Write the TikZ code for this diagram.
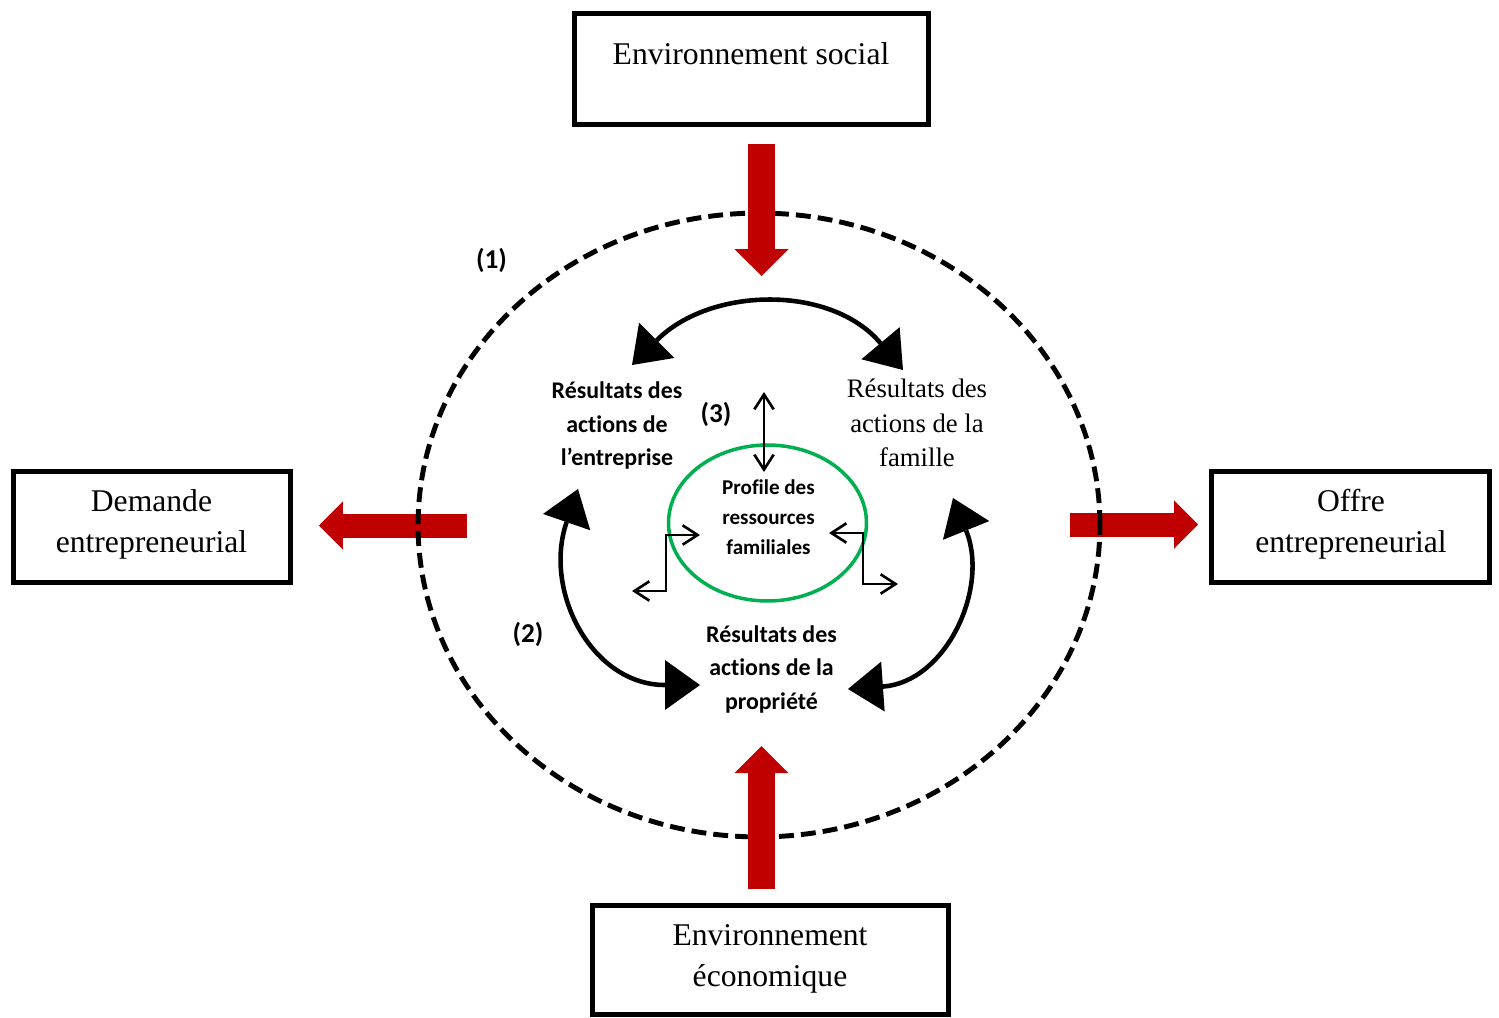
\documentclass[tikz,border=0pt]{standalone}
\usepackage{fontspec}
\setmainfont{Liberation Serif}
\newfontfamily\carlito{Carlito}[Ligatures=NoCommon]
\usetikzlibrary{arrows.meta,shapes.geometric}
\definecolor{arrowred}{HTML}{C00000}
\definecolor{ringgreen}{HTML}{00B050}
\begin{document}
\begin{tikzpicture}[x=0.02cm, y=-0.02cm,
  envbox/.style={draw, line width=2.8pt, inner sep=0pt, minimum height=2.22cm},
  boxtext/.style={font=\fontsize{18}{23.3}\selectfont, align=center, inner sep=0pt},
  famtext/.style={font=\fontsize{15.2}{19.8}\selectfont, align=center, inner sep=0pt},
  restext/.style={font=\carlito\bfseries\fontsize{13.6}{19}\selectfont, align=center, inner sep=0pt},
  proftext/.style={font=\carlito\bfseries\fontsize{12}{17}\selectfont, align=center, inner sep=0pt},
  numtext/.style={font=\carlito\bfseries\fontsize{15.5}{18}\selectfont, inner sep=0pt},
  redv/.style={draw=arrowred, line width=0.54cm,
    -{Triangle[length=0.54cm, width=1.08cm, line width=0pt]}},
  redh/.style={draw=arrowred, line width=0.48cm,
    -{Triangle[length=0.48cm, width=0.97cm, line width=0pt]}},
  bigarrow/.style={line width=2.6pt,
    {Triangle[length=0.7cm, width=1cm, line width=0pt]}-{Triangle[length=0.7cm, width=1cm, line width=0pt]}},
  thinarrow/.style={line width=1.5pt,
    {Straight Barb[length=8.5pt, width=11pt]}-{Straight Barb[length=8.5pt, width=11pt]}}
]
\useasboundingbox (0,0) rectangle (1499,1018);

% outer boxes
\node[envbox, minimum width=7.08cm] (envsoc) at (751.5,69) {};
\node[boxtext] (envsoctxt) at (751,54) {Environnement social};
\node[envbox, minimum width=5.54cm] (demande) at (152,527) {};
\node[boxtext] (demandetxt) at (151.5,524.5) {Demande\\entrepreneurial};
\node[envbox, minimum width=5.56cm] (offre) at (1350.5,527) {};
\node[boxtext] (offretxt) at (1351,524.5) {Offre\\entrepreneurial};
\node[envbox, minimum width=7.12cm, minimum height=2.18cm] (envecon) at (770.5,960) {};
\node[boxtext] (envecontxt) at (770,958.5) {Environnement\\économique};

% horizontal red arrows (under the dashed ring)
\coordinate (rl1) at (467,525.5); \coordinate (rl2) at (319,525.5);
\coordinate (rr1) at (1070,524.5); \coordinate (rr2) at (1198,524.5);
\draw[redh] (rl1) -- (rl2);
\draw[redh] (rr1) -- (rr2);

% dashed ring
\node[draw, ellipse, line width=2.8pt, dash pattern=on 8.5pt off 4pt,
  minimum width=13.64cm, minimum height=12.48cm, inner sep=0pt] (ring) at (759,525) {};

% vertical red arrows
\coordinate (rt1) at (761.5,144); \coordinate (rt2) at (761.5,276);
\coordinate (rb1) at (761.5,889); \coordinate (rb2) at (761.5,746);
\draw[redv] (rt1) -- (rt2);
\draw[redv] (rb1) -- (rb2);

% inner green ring
\node[draw=ringgreen, ellipse, line width=2pt, minimum width=3.96cm,
  minimum height=3.12cm, inner sep=0pt] (core) at (767.5,523) {};
\node[proftext] (profile) at (768.5,517.4) {Profile des\\ressources\\familiales};

% result texts
\node[restext] (entreprise) at (617,425.5) {Résultats des\\actions de\\l’entreprise};
\node[famtext] (famille) at (917,423) {Résultats des\\actions de la\\famille};
\node[restext] (propriete) at (771.5,669.4) {Résultats des\\actions de la\\propriété};

% numbered labels
\node[numtext] (n1) at (491.5,260.5) {(1)};
\node[numtext] (n2) at (528,634) {(2)};
\node[numtext] (n3) at (716,414.5) {(3)};

% curved arrows between results
\coordinate (ta) at (632,365); \coordinate (tb) at (903,370);
\coordinate (la) at (578,489); \coordinate (lb) at (700,685);
\coordinate (ra) at (953,498); \coordinate (rb) at (848,689);
\draw[bigarrow] (ta) to[out=45, in=130, looseness=1.05] (tb);
\draw[bigarrow] (la) to[out=251, in=180, looseness=1.2] (lb);
\draw[bigarrow] (ra) to[out=292, in=4, looseness=1.15] (rb);

% thin arrows around the resource profile
\coordinate (va) at (764,392); \coordinate (vb) at (764,472);
\draw[thinarrow] (va) -- (vb);
\coordinate (le1) at (700,535); \coordinate (le2) at (666,535);
\coordinate (le3) at (666,591); \coordinate (le4) at (632,591);
\draw[thinarrow] (le1) -- (le2) -- (le3) -- (le4);
\coordinate (re1) at (829,533); \coordinate (re2) at (863,533);
\coordinate (re3) at (863,584); \coordinate (re4) at (898,584);
\draw[thinarrow] (re1) -- (re2) -- (re3) -- (re4);
\end{tikzpicture}
\end{document}
